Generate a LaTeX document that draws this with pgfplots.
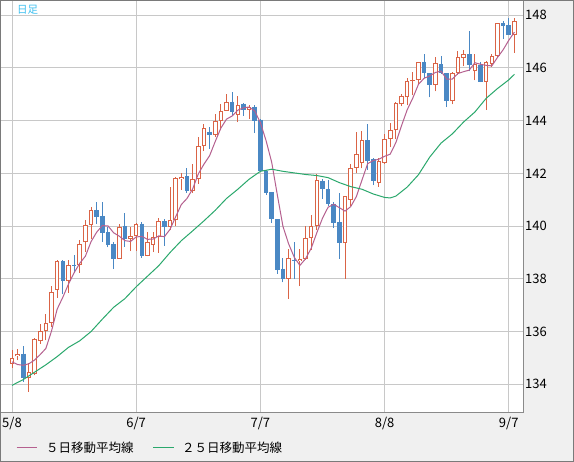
\documentclass[border=0pt]{standalone}
\usepackage{pgfplots}
\pgfplotsset{compat=1.18}
\usepackage{fontspec}
\setmainfont{Noto Sans CJK JP}
\definecolor{upc}{HTML}{DA6446}
\definecolor{dnc}{HTML}{4A88C4}
\definecolor{ma5}{HTML}{B5608F}
\definecolor{ma25}{HTML}{2AA86C}
\definecolor{bg}{HTML}{F0F0F0}
\definecolor{gridc}{HTML}{C8C8C8}
\definecolor{frm}{HTML}{7A7A7A}
\definecolor{pfrm}{HTML}{8A8A8A}
\definecolor{lbl}{HTML}{3CC0F0}
% candle macros: index, open, high, low, close
\newcommand\U[5]{%
 \addplot[upc, line width=1pt] coordinates {(#1,#4) (#1,#3)};
 \addplot[upc, line width=4.6pt] coordinates {(#1,#2) (#1,#5)};
 \addplot[white, line width=2.6pt, shorten <=1pt, shorten >=1pt] coordinates {(#1,#2) (#1,#5)};}
\newcommand\Us[5]{%
 \addplot[upc, line width=1pt] coordinates {(#1,#4) (#1,#3)};
 \addplot[upc, line width=4.6pt] coordinates {(#1,#2) (#1,#5)};}
\newcommand\D[5]{%
 \addplot[dnc, line width=1pt] coordinates {(#1,#4) (#1,#3)};
 \addplot[dnc, line width=4.6pt] coordinates {(#1,#2) (#1,#5)};}
\begin{document}
\begin{tikzpicture}
\fill[bg] (0pt,0pt) rectangle (574pt,-462pt);
\useasboundingbox (0pt,0pt) rectangle (574pt,-462pt);
\begin{axis}[at={(0pt,0pt)}, anchor=north west,
 width=523.5pt, height=412.5pt, scale only axis,
 xmin=-2.126, xmax=90.61, ymin=132.93, ymax=148.58,
 axis background/.style={fill=white},
 axis line style={draw=pfrm, line width=1pt},
 xtick={0,22,44,66,88}, xticklabels={5/8,6/7,7/7,8/8,9/7},
 ytick={134,136,138,140,142,144,146,148},
 yticklabel pos=right,
 grid=major, grid style={gridc, line width=1pt},
 major tick length=0pt,
 tick label style={font=\fontsize{13}{13}\selectfont, text=black},
 /pgf/number format/assume math mode=true,
 yticklabel style={anchor=west, xshift=-1.8pt},
 xticklabel style={yshift=-1pt},
 no markers, clip=true]
\U{0}{134.78}{135.29}{134.63}{135.01}
\U{1}{135.06}{135.33}{134.91}{135.16}
\D{2}{135.16}{135.46}{134.09}{134.25}
\U{3}{134.25}{134.81}{133.71}{134.48}
\U{4}{134.38}{135.75}{134.34}{135.70}
\U{5}{135.66}{136.30}{135.54}{136.04}
\U{6}{136.03}{136.65}{135.67}{136.34}
\U{7}{136.34}{137.72}{136.18}{137.52}
\U{8}{137.57}{138.73}{137.29}{138.67}
\D{9}{138.67}{138.70}{137.44}{137.92}
\U{10}{137.92}{138.71}{137.48}{138.54}
\D{11}{138.54}{138.90}{138.23}{138.48}
\U{12}{138.51}{139.46}{138.23}{139.34}
\U{13}{139.38}{140.22}{139.03}{140.04}
\U{14}{140.04}{140.73}{139.53}{140.63}
\D{15}{140.61}{140.91}{140.10}{140.35}
\D{16}{140.38}{140.91}{139.41}{139.75}
\D{17}{139.77}{139.97}{139.19}{139.28}
\D{18}{139.32}{139.41}{138.37}{138.75}
\U{19}{138.76}{140.10}{138.76}{139.95}
\D{20}{140.00}{140.48}{139.22}{139.51}
\U{21}{139.53}{139.97}{139.05}{139.62}
\U{22}{139.63}{140.13}{139.06}{140.10}
\D{23}{140.10}{140.16}{138.80}{138.86}
\U{24}{138.87}{139.76}{138.85}{139.41}
\U{25}{139.30}{139.76}{139.01}{139.57}
\U{26}{139.59}{140.32}{139.00}{140.19}
\D{27}{140.19}{140.29}{139.25}{139.98}
\U{28}{139.96}{141.50}{139.85}{140.24}
\U{29}{140.24}{141.86}{140.00}{141.84}
\U{30}{141.78}{142.01}{141.38}{141.87}
\D{31}{141.91}{142.22}{141.25}{141.32}
\U{32}{141.33}{142.34}{141.25}{141.80}
\U{33}{141.78}{143.38}{141.61}{143.05}
\U{34}{143.05}{143.89}{142.85}{143.73}
\D{35}{143.59}{143.76}{142.94}{143.47}
\U{36}{143.47}{144.27}{143.38}{143.99}
\U{37}{143.99}{144.62}{143.63}{144.38}
\U{38}{144.38}{145.03}{144.37}{144.72}
\D{39}{144.72}{145.08}{144.16}{144.32}
\U{40}{144.23}{144.92}{143.95}{144.61}
\D{41}{144.65}{144.67}{144.19}{144.41}
\U{42}{144.41}{144.58}{144.08}{144.52}
\D{43}{144.53}{144.58}{143.53}{144.00}
\D{44}{144.04}{144.05}{142.05}{142.09}
\D{45}{142.11}{142.13}{141.20}{141.25}
\D{46}{141.29}{141.30}{140.11}{140.28}
\D{47}{140.28}{140.28}{138.20}{138.34}
\D{48}{138.39}{138.80}{137.87}{138.00}
\U{49}{138.00}{139.14}{137.24}{138.80}
\D{50}{138.70}{139.38}{137.99}{138.66}
\U{51}{138.66}{139.13}{137.72}{138.76}
\U{52}{138.76}{139.99}{138.73}{139.56}
\U{53}{139.56}{140.43}{139.10}{140.01}
\U{54}{140.01}{141.96}{139.84}{141.76}
\D{55}{141.70}{141.80}{141.04}{141.41}
\D{56}{141.41}{141.76}{140.75}{140.85}
\D{57}{140.85}{140.91}{139.94}{140.11}
\D{58}{140.15}{141.27}{138.76}{139.35}
\U{59}{139.35}{141.15}{138.00}{141.15}
\U{60}{141.00}{142.37}{140.78}{142.22}
\U{61}{142.22}{143.56}{142.00}{142.75}
\U{62}{142.40}{143.61}{142.19}{143.26}
\D{63}{143.26}{143.89}{142.13}{142.48}
\D{64}{142.53}{142.57}{141.56}{141.72}
\U{65}{141.65}{142.57}{141.50}{142.48}
\U{66}{142.40}{143.51}{142.35}{143.32}
\U{67}{143.31}{143.91}{143.00}{143.64}
\U{68}{143.64}{144.71}{143.30}{144.67}
\U{69}{144.62}{145.00}{144.54}{144.92}
\U{70}{144.89}{145.62}{144.58}{145.52}
\Us{71}{145.50}{145.86}{144.96}{145.55}
\U{72}{145.55}{146.24}{145.40}{146.24}
\D{73}{146.24}{146.53}{145.62}{145.81}
\D{74}{145.81}{145.81}{144.89}{145.36}
\U{75}{145.36}{146.40}{145.11}{146.18}
\D{76}{146.15}{146.47}{145.77}{145.82}
\D{77}{145.81}{145.81}{144.52}{144.74}
\U{78}{144.74}{145.86}{144.62}{145.80}
\U{79}{145.80}{146.63}{145.75}{146.43}
\U{80}{146.39}{146.68}{146.06}{146.52}
\D{81}{146.52}{147.40}{145.87}{146.10}
\U{82}{145.87}{146.52}{145.53}{146.17}
\D{83}{146.10}{146.23}{145.46}{145.46}
\U{84}{145.46}{146.25}{144.41}{146.23}
\U{85}{146.17}{146.55}{146.04}{146.45}
\U{86}{146.45}{147.69}{146.43}{147.69}
\D{87}{147.69}{147.80}{147.10}{147.61}
\D{88}{147.62}{147.89}{147.25}{147.27}
\U{89}{147.27}{147.89}{146.57}{147.77}
% 5-day moving average
\addplot[ma5, line width=1pt] coordinates {(0,134.85) (1,134.75) (2,134.72) (3,134.78) (4,134.92) (5,135.13) (6,135.36) (7,136.02) (8,136.85) (9,137.30) (10,137.80) (11,138.23) (12,138.59) (13,138.86) (14,139.41) (15,139.77) (16,140.02) (17,140.01) (18,139.75) (19,139.62) (20,139.45) (21,139.42) (22,139.59) (23,139.61) (24,139.50) (25,139.51) (26,139.63) (27,139.60) (28,139.88) (29,140.36) (30,140.82) (31,141.05) (32,141.41) (33,141.98) (34,142.35) (35,142.67) (36,143.21) (37,143.72) (38,144.06) (39,144.18) (40,144.40) (41,144.49) (42,144.52) (43,144.37) (44,143.93) (45,143.25) (46,142.43) (47,141.19) (48,139.99) (49,139.33) (50,138.82) (51,138.51) (52,138.76) (53,139.16) (54,139.75) (55,140.30) (56,140.72) (57,140.83) (58,140.70) (59,140.57) (60,140.74) (61,141.12) (62,141.75) (63,142.37) (64,142.49) (65,142.54) (66,142.65) (67,142.73) (68,143.17) (69,143.81) (70,144.41) (71,144.86) (72,145.38) (73,145.61) (74,145.70) (75,145.83) (76,145.88) (77,145.58) (78,145.58) (79,145.79) (80,145.86) (81,145.92) (82,146.20) (83,146.14) (84,146.10) (85,146.08) (86,146.40) (87,146.69) (88,147.05) (89,147.36)};
% 25-day moving average
\addplot[ma25, line width=1pt] coordinates {(0,133.96) (2,134.18) (4,134.46) (6,134.74) (8,135.05) (10,135.40) (12,135.65) (14,136.00) (16,136.47) (18,136.92) (20,137.25) (22,137.70) (24,138.10) (26,138.50) (28,139.00) (30,139.45) (32,139.82) (34,140.20) (36,140.60) (38,141.05) (40,141.40) (42,141.78) (44,142.08) (46,142.16) (48,142.08) (50,142.02) (52,141.96) (54,141.92) (56,141.84) (58,141.65) (60,141.50) (62,141.40) (64,141.22) (66,141.09) (67,141.07) (68,141.14) (70,141.48) (72,141.95) (74,142.62) (76,143.15) (78,143.50) (80,143.95) (82,144.33) (84,144.85) (86,145.22) (88,145.55) (89,145.76)};
\end{axis}
\node[anchor=west, inner sep=0pt, text=lbl, font=\fontsize{10.5}{10.5}\selectfont] at (17pt,-10pt) {日足};
\draw[ma5, line width=1pt] (16.5pt,-448pt) -- (36.5pt,-448pt);
\node[anchor=west, inner sep=0pt, font=\fontsize{12.5}{12.5}\selectfont] at (46pt,-448pt) {５日移動平均線};
\draw[ma25, line width=1pt] (153pt,-448pt) -- (174pt,-448pt);
\node[anchor=west, inner sep=0pt, font=\fontsize{12.5}{12.5}\selectfont] at (182pt,-448pt) {２５日移動平均線};
\draw[frm, line width=1pt] (0.5pt,-0.5pt) rectangle (573.5pt,-461.5pt);
\end{tikzpicture}
\end{document}
